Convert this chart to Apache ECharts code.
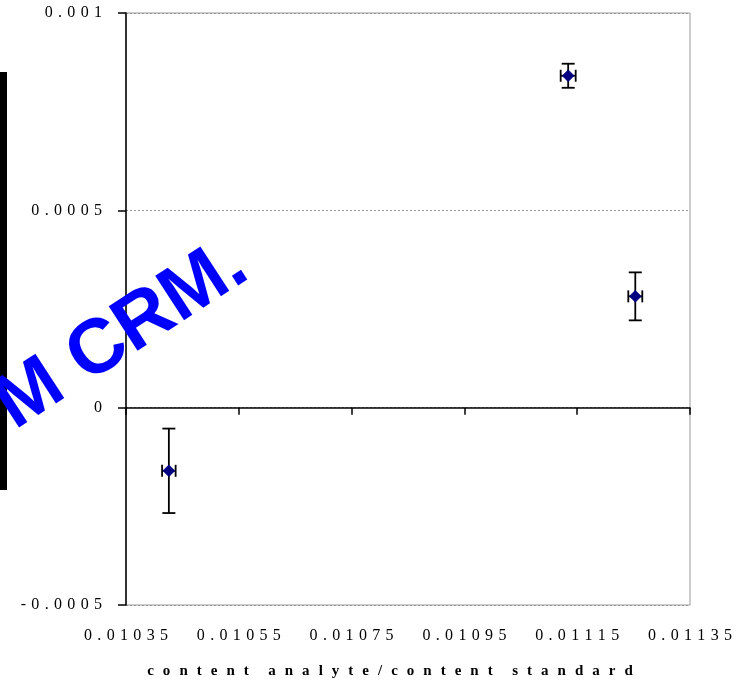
<!DOCTYPE html>
<html>
<head>
<meta charset="utf-8">
<script src="https://cdn.jsdelivr.net/npm/echarts@6/dist/echarts.min.js"></script>
<style>
html,body{margin:0;padding:0;background:#fff;}
#chart{width:740px;height:681px;}
</style>
</head>
<body>
<div id="chart"></div>
<script>
// ---- data ----
const xValues = [0.010426, 0.011134, 0.011253];
const yValues = [-0.000160, 0.000841, 0.000282];
const xErrors = [0.0000120, 0.0000133, 0.0000124];
const yErrors = [0.000107, 0.0000305, 0.0000608];

const xTickValues = [0.01035, 0.01055, 0.01075, 0.01095, 0.01115, 0.01135];
const xTickLabels = ['0.01035', '0.01055', '0.01075', '0.01095', '0.01115', '0.01135'];
const yTickValues = [-0.0005, 0, 0.0005, 0.001];
const yTickLabels = ['-0.0005', '0', '0.0005', '0.001'];

const xAxisTitle = 'content analyte/content standard';
const watermarkText = 'M CRM.';

// ---- helpers ----
function spaced(s, sep) { return s.split('').join(sep); }
function spacedTitle(s) {
  return s.split(' ').map(w => spaced(w, '\u2009\u2009\u2009')).join('\u2009\u2009\u2009\u2009  ');
}
function labelFor(values, labels, v) {
  const i = values.findIndex(t => Math.abs(t - v) < 1e-9);
  return i >= 0 ? spaced(labels[i], '\u2005\u200A') : '';
}

const points = xValues.map((x, i) => [x, yValues[i]]);
const errData = xValues.map((x, i) => [x, yValues[i], xErrors[i], yErrors[i]]);

const chart = echarts.init(document.getElementById('chart'), null, {renderer: 'canvas'});

const serif = '"Liberation Serif", "Times New Roman", serif';

chart.setOption({
  backgroundColor: '#ffffff',
  animation: false,
  grid: {
    left: 126, top: 13, right: 50, bottom: 76,
    outerBoundsMode: 'none', containLabel: false,
    show: true, borderColor: '#999999', borderWidth: 1, backgroundColor: 'transparent'
  },
  xAxis: [
    {
      type: 'value', min: 0.01035, max: 0.01135,
      position: 'bottom',
      axisLine: { show: true, onZero: true, lineStyle: { color: '#000', width: 1.5 } },
      axisTick: { show: true, inside: false, length: 7, customValues: xTickValues, lineStyle: { color: '#000', width: 1.5 } },
      axisLabel: { show: false },
      splitLine: { show: false }
    },
    {
      type: 'value', min: 0.01035, max: 0.01135,
      position: 'bottom',
      axisLine: { show: false, onZero: false },
      axisTick: { show: false },
      splitLine: { show: false },
      axisLabel: {
        show: true, customValues: xTickValues, margin: 23,
        fontFamily: serif, fontSize: 16, color: '#000',
        formatter: v => labelFor(xTickValues, xTickLabels, v)
      },
      name: spacedTitle(xAxisTitle),
      nameLocation: 'middle', nameGap: 59,
      nameTextStyle: { fontFamily: serif, fontSize: 15, fontWeight: 'bold', color: '#000', padding: [0, 36, 0, 0] }
    }
  ],
  yAxis: {
    type: 'value', min: -0.0005, max: 0.001, interval: 0.0005,
    axisLine: { show: true, lineStyle: { color: '#000', width: 1.5 } },
    axisTick: { show: true, inside: false, length: 8, lineStyle: { color: '#000', width: 1.5 } },
    axisLabel: {
      margin: 24, fontFamily: serif, fontSize: 16, color: '#000',
      formatter: v => labelFor(yTickValues, yTickLabels, v)
    },
    splitLine: { show: true, lineStyle: { color: '#999', width: 1, type: [2, 2] } }
  },
  series: [
    {
      type: 'custom',
      xAxisIndex: 0,
      data: errData,
      z: 2,
      renderItem: function (params, api) {
        const x = api.value(0), y = api.value(1), ex = api.value(2), ey = api.value(3);
        const c = api.coord([x, y]);
        const top = api.coord([x, y + ey]);
        const bot = api.coord([x, y - ey]);
        const lft = api.coord([x - ex, y]);
        const rgt = api.coord([x + ex, y]);
        const capW = 6.5, capH = 6;
        const st = { stroke: '#000', lineWidth: 1.8 };
        return {
          type: 'group',
          children: [
            { type: 'line', shape: { x1: c[0], y1: top[1], x2: c[0], y2: bot[1] }, style: st },
            { type: 'line', shape: { x1: c[0] - capW, y1: top[1], x2: c[0] + capW, y2: top[1] }, style: st },
            { type: 'line', shape: { x1: c[0] - capW, y1: bot[1], x2: c[0] + capW, y2: bot[1] }, style: st },
            { type: 'line', shape: { x1: lft[0], y1: c[1], x2: rgt[0], y2: c[1] }, style: st },
            { type: 'line', shape: { x1: lft[0], y1: c[1] - capH, x2: lft[0], y2: c[1] + capH }, style: st },
            { type: 'line', shape: { x1: rgt[0], y1: c[1] - capH, x2: rgt[0], y2: c[1] + capH }, style: st }
          ]
        };
      }
    },
    {
      type: 'scatter',
      xAxisIndex: 0,
      data: points,
      symbol: 'diamond',
      symbolSize: 12,
      z: 3,
      itemStyle: { color: '#000080', borderColor: '#000080', borderWidth: 0.5, opacity: 1 }
    }
  ],
  graphic: [
    {
      type: 'rect', left: 0, top: 72, z: 50,
      shape: { width: 7, height: 418 },
      style: { fill: '#000' }
    },
    {
      type: 'text', x: 261, y: 291, rotation: 33 * Math.PI / 180, z: 100,
      style: {
        text: watermarkText,
        font: 'bold 77px "Liberation Sans", Arial, sans-serif',
        fill: '#0000ff',
        textAlign: 'right',
        textVerticalAlign: 'bottom'
      }
    }
  ]
});
</script>
</body>
</html>
